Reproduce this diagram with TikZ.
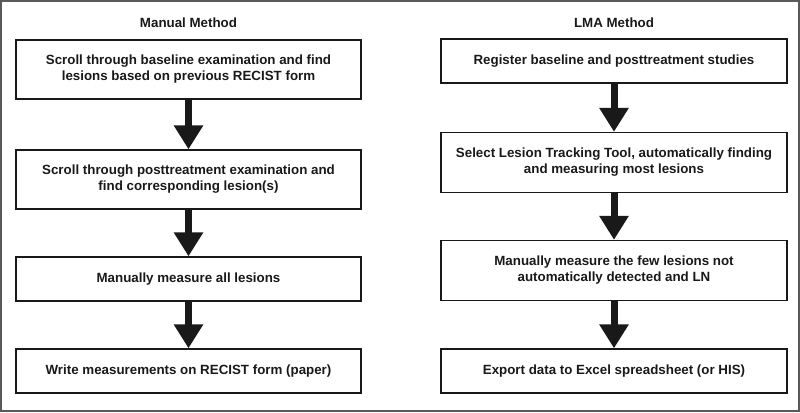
\documentclass[tikz,border=0pt]{standalone}
\usepackage{fontspec}
\setmainfont{Liberation Sans}
\usepackage{tikz}
\usetikzlibrary{arrows.meta}
\usetikzlibrary{positioning}

\tikzset{
  stepbox/.style={draw=black!90, line width=1pt, align=center, inner sep=0pt,
    font=\bfseries\fontsize{10pt}{12pt}\selectfont, text=black!90},
  bigarrow/.style={line width=5.25pt, draw=black!90,
    -{Triangle[width=21pt, length=18pt]}},
}

\begin{document}
\begin{tikzpicture}[x=0.75pt, y=-0.75pt]

  \useasboundingbox (0,0) rectangle (800,413);
  \draw[black!65, line width=0.9pt] (1,1) rectangle (799,411);

  % Manual Method
  \node[font=\bfseries\fontsize{10pt}{12pt}\selectfont, text=black!90] (mtitle) at (188.5,23) {Manual Method};
  \node[stepbox, minimum width=258.75pt, minimum height=44.25pt] (m1) at (188.5,69.5)
    {Scroll through baseline examination and find\\lesions based on previous RECIST form};
  \node[stepbox, minimum width=258.75pt, minimum height=44.25pt] (m2) at (188.5,179.5)
    {Scroll through posttreatment examination and\\find corresponding lesion(s)};
  \node[stepbox, minimum width=258.75pt, minimum height=33pt] (m3) at (188.5,279)
    {Manually measure all lesions};
  \node[stepbox, minimum width=258.75pt, minimum height=33pt] (m4) at (188.5,371)
    {Write measurements on RECIST form (paper)};

  \draw[bigarrow] (m1) -- (m2);
  \draw[bigarrow] (m2) -- (m3);
  \draw[bigarrow] (m3) -- (m4);

  % LMA Method
  \node[font=\bfseries\fontsize{10pt}{12pt}\selectfont, text=black!90] (ltitle) at (614,23) {LMA Method};
  \node[stepbox, minimum width=259.5pt, minimum height=33pt] (a1) at (614,61)
    {Register baseline and posttreatment studies};
  \node[stepbox, minimum width=259.5pt, minimum height=45pt] (a2) at (614,162.5)
    {Select Lesion Tracking Tool, automatically finding\\and measuring most lesions};
  \node[stepbox, minimum width=259.5pt, minimum height=45pt] (a3) at (614,270.5)
    {Manually measure the few lesions not\\automatically detected and LN};
  \node[stepbox, minimum width=259.5pt, minimum height=33pt] (a4) at (614,371)
    {Export data to Excel spreadsheet (or HIS)};

  \draw[bigarrow] (a1) -- (a2);
  \draw[bigarrow] (a2) -- (a3);
  \draw[bigarrow] (a3) -- (a4);

\end{tikzpicture}
\end{document}
